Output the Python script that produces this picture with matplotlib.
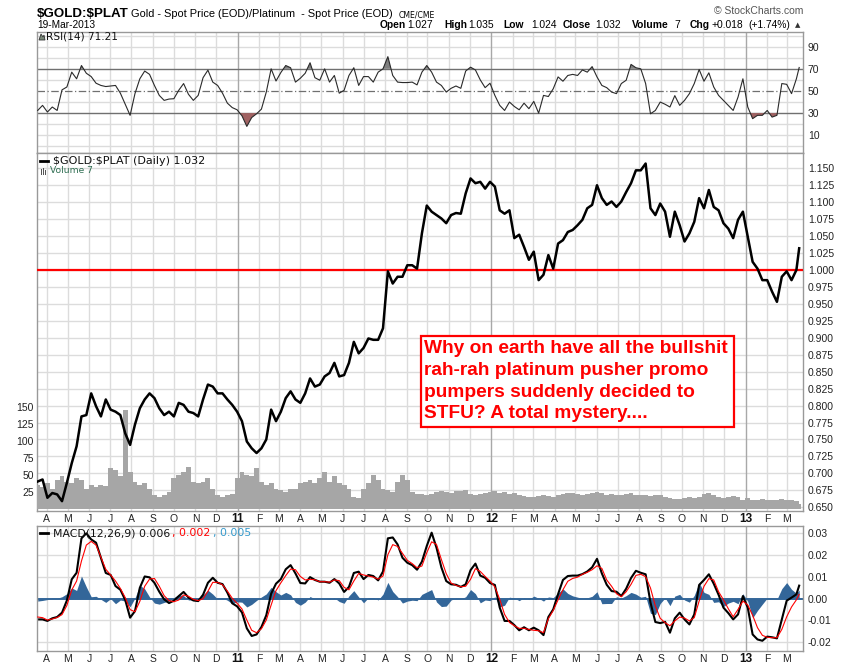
import numpy as np
import pandas as pd
import matplotlib
matplotlib.use('Agg')
import matplotlib.pyplot as plt
import matplotlib.dates as mdates
import matplotlib.transforms as mtransforms
from matplotlib.patches import Rectangle, Polygon
from matplotlib.lines import Line2D
from matplotlib import font_manager
from datetime import datetime

# ---------------- data ----------------
dates = list(pd.date_range('2010-03-19', '2013-03-15', freq='W-FRI')) + [pd.Timestamp('2013-03-19')]

price = [
    0.688, 0.691, 0.664, 0.671, 0.669, 0.659, 0.686, 0.715, 0.740, 0.784,
    0.786, 0.818, 0.799, 0.784, 0.809, 0.794, 0.791, 0.786, 0.759, 0.742,
    0.772, 0.796, 0.809, 0.818, 0.811, 0.796, 0.786, 0.791, 0.784, 0.804,
    0.801, 0.791, 0.789, 0.784, 0.809, 0.831, 0.828, 0.818, 0.818, 0.809,
    0.801, 0.791, 0.777, 0.747, 0.737, 0.730, 0.737, 0.750, 0.794, 0.777,
    0.791, 0.811, 0.821, 0.809, 0.804, 0.818, 0.840, 0.828, 0.831, 0.843,
    0.848, 0.863, 0.843, 0.845, 0.863, 0.894, 0.877, 0.885, 0.899, 0.897,
    0.897, 0.914, 0.998, 0.980, 0.990, 0.990, 1.007, 1.007, 1.002, 1.054,
    1.095, 1.086, 1.081, 1.076, 1.069, 1.081, 1.084, 1.083, 1.113, 1.135,
    1.128, 1.130, 1.120, 1.130, 1.123, 1.088, 1.083, 1.088, 1.047, 1.052,
    1.034, 1.015, 1.027, 0.985, 0.993, 1.022, 1.002, 1.039, 1.044, 1.056,
    1.059, 1.066, 1.074, 1.091, 1.096, 1.125, 1.106, 1.096, 1.101, 1.093,
    1.101, 1.115, 1.128, 1.147, 1.147, 1.157, 1.091, 1.081, 1.098, 1.086,
    1.049, 1.086, 1.066, 1.042, 1.054, 1.071, 1.106, 1.091, 1.118, 1.093,
    1.088, 1.069, 1.061, 1.047, 1.074, 1.086, 1.049, 1.012, 1.002, 0.985,
    0.985, 0.968, 0.953, 0.990, 0.998, 0.985, 1.000, 1.032]

rsi = [
    32.4, 37, 31, 35.5, 32.4, 51, 53.6, 67, 61, 73,
    66, 63, 57, 55, 54, 54.5, 55, 48, 38, 28,
    47.6, 61, 68, 65, 55, 46, 41.5, 42.7, 43, 50.6,
    56.7, 47, 41.5, 46, 62, 68.8, 58, 55, 48, 39,
    35, 33, 27.6, 18, 26, 29.4, 33.6, 49, 70, 59,
    66.7, 73, 71, 58, 61.5, 66, 75.5, 62, 59.7, 70,
    58, 64, 48, 50.6, 64, 71, 55, 63, 63, 58,
    67, 70, 81, 64, 58, 57.6, 57.6, 58, 55.5, 67,
    73, 67, 58, 55, 49, 52.4, 54.5, 52.4, 68, 71.5,
    69, 60, 53, 57, 46, 37, 32.4, 40, 36, 33,
    39, 34, 40.6, 30, 46, 45, 52, 62.7, 58.8, 64,
    65, 64, 69, 67, 72, 62.7, 55, 53, 49, 47.6,
    56.7, 59.7, 74, 71, 70, 56.7, 29.4, 32.4, 40, 38,
    35.5, 45.8, 37, 41.5, 47.6, 56.7, 69.4, 58.8, 66.4, 53.6,
    46, 41.5, 37, 32.4, 44.5, 61, 35.5, 25, 28, 28,
    32.4, 26.4, 28, 56.7, 56, 47.6, 61, 71.21]

macd = [
    -0.0095, -0.0095, -0.0102, -0.0090, -0.0084, -0.0064, -0.0008, 0.0089, 0.0119, 0.0277,
    0.0300, 0.0272, 0.0257, 0.0188, 0.0118, 0.0109, 0.0058, 0.0041, -0.0006, -0.0087,
    -0.0057, 0.0050, 0.0102, 0.0098, 0.0073, 0.0032, -0.0003, -0.0020, -0.0009, 0.0012,
    0.0031, 0.0005, -0.0008, -0.0011, 0.0018, 0.0073, 0.0096, 0.0073, 0.0067, 0.0028,
    -0.0021, -0.0035, -0.0063, -0.0136, -0.0171, -0.0164, -0.0130, -0.0076, 0.0023, 0.0069,
    0.0090, 0.0135, 0.0154, 0.0116, 0.0072, 0.0070, 0.0099, 0.0086, 0.0078, 0.0078,
    0.0073, 0.0090, 0.0070, 0.0031, 0.0054, 0.0118, 0.0124, 0.0090, 0.0109, 0.0104,
    0.0084, 0.0125, 0.0277, 0.0281, 0.0249, 0.0188, 0.0165, 0.0154, 0.0133, 0.0170,
    0.0242, 0.0303, 0.0234, 0.0144, 0.0081, 0.0066, 0.0064, 0.0054, 0.0066, 0.0131,
    0.0161, 0.0106, 0.0096, 0.0072, 0.0063, -0.0041, -0.0102, -0.0102, -0.0121, -0.0145,
    -0.0131, -0.0145, -0.0133, -0.0145, -0.0167, -0.0084, -0.0049, 0.0021, 0.0086, 0.0104,
    0.0106, 0.0106, 0.0113, 0.0125, 0.0144, 0.0183, 0.0116, 0.0064, 0.0035, 0.0032,
    0.0012, 0.0046, 0.0095, 0.0128, 0.0119, 0.0112, -0.0018, -0.0107, -0.0112, -0.0106,
    -0.0156, -0.0090, -0.0064, -0.0095, -0.0118, -0.0072, 0.0063, 0.0086, 0.0112, 0.0069,
    0.0018, -0.0041, -0.0066, -0.0095, -0.0072, 0.0012, -0.0041, -0.0164, -0.0187, -0.0193,
    -0.0174, -0.0177, -0.0182, -0.0095, -0.0009, 0.0005, 0.0020, 0.0060]

signal = [
    -0.0084, -0.0087, -0.0098, -0.0093, -0.0086, -0.0073, -0.0031, 0.0040, 0.0081, 0.0173,
    0.0246, 0.0263, 0.0246, 0.0191, 0.0135, 0.0109, 0.0081, 0.0047, 0.0005, -0.0050,
    -0.0060, -0.0012, 0.0057, 0.0090, 0.0093, 0.0057, 0.0014, -0.0009, -0.0014, -0.0006,
    0.0017, 0.0011, -0.0003, -0.0009, 0.0000, 0.0034, 0.0075, 0.0075, 0.0064, 0.0035,
    0.0002, -0.0021, -0.0047, -0.0098, -0.0145, -0.0156, -0.0138, -0.0098, -0.0029, 0.0037,
    0.0073, 0.0106, 0.0136, 0.0133, 0.0102, 0.0086, 0.0089, 0.0087, 0.0078, 0.0078,
    0.0076, 0.0086, 0.0083, 0.0052, 0.0041, 0.0081, 0.0116, 0.0109, 0.0104, 0.0099,
    0.0090, 0.0104, 0.0202, 0.0248, 0.0240, 0.0208, 0.0176, 0.0161, 0.0142, 0.0150,
    0.0211, 0.0261, 0.0249, 0.0180, 0.0115, 0.0072, 0.0061, 0.0055, 0.0057, 0.0089,
    0.0138, 0.0125, 0.0102, 0.0081, 0.0054, -0.0003, -0.0072, -0.0109, -0.0124, -0.0136,
    -0.0136, -0.0141, -0.0145, -0.0147, -0.0156, -0.0092, -0.0054, -0.0005, 0.0041, 0.0080,
    0.0093, 0.0099, 0.0112, 0.0121, 0.0133, 0.0151, 0.0139, 0.0086, 0.0057, 0.0023,
    0.0009, 0.0032, 0.0066, 0.0107, 0.0112, 0.0101, 0.0049, -0.0034, -0.0090, -0.0110,
    -0.0124, -0.0102, -0.0084, -0.0089, -0.0102, -0.0087, -0.0011, 0.0057, 0.0092, 0.0086,
    0.0032, -0.0005, -0.0046, -0.0083, -0.0049, -0.0011, -0.0029, -0.0076, -0.0133, -0.0168,
    -0.0177, -0.0179, -0.0179, -0.0141, -0.0083, -0.0038, -0.0005, 0.0020]

volume = [
    35, 32, 38, 30, 42, 48, 40, 38, 45, 42,
    30, 35, 32, 36, 34, 60, 58, 48, 146, 55,
    40, 35, 38, 30, 20, 18, 20, 25, 45, 50,
    55, 62, 40, 38, 40, 45, 30, 20, 18, 20,
    22, 45, 55, 50, 48, 60, 40, 35, 38, 30,
    28, 25, 30, 30, 38, 40, 42, 38, 45, 55,
    40, 48, 38, 35, 30, 18, 16, 30, 38, 50,
    42, 30, 28, 25, 40, 50, 42, 25, 22, 22,
    20, 22, 25, 26, 25, 24, 26, 27, 28, 22,
    21, 22, 23, 25, 26, 24, 25, 22, 23, 20,
    19, 18, 18, 19, 20, 19, 18, 20, 22, 23,
    24, 22, 21, 22, 24, 25, 23, 21, 22, 21,
    20, 22, 23, 21, 20, 21, 19, 20, 21, 18,
    16, 15, 15, 16, 17, 16, 18, 22, 24, 20,
    17, 16, 18, 19, 17, 14, 16, 14, 13, 15,
    14, 13, 14, 15, 13, 14, 12, 7]

month_starts = pd.date_range('2010-04-01', '2013-03-01', freq='MS')
month_labels = ['A', 'M', 'J', 'J', 'A', 'S', 'O', 'N', 'D',
                '11', 'F', 'M', 'A', 'M', 'J', 'J', 'A', 'S', 'O', 'N', 'D',
                '12', 'F', 'M', 'A', 'M', 'J', 'J', 'A', 'S', 'O', 'N', 'D',
                '13', 'F', 'M']

price_ticks = [0.650 + 0.025 * i for i in range(21)]
rsi_ticks = [10, 30, 50, 70, 90]
vol_ticks = [25, 50, 75, 100, 125, 150]
macd_ticks = [-0.02, -0.01, 0.0, 0.01, 0.02, 0.03]
macd_tick_labels = ['-0.02', '-0.01', '0.00', '0.01', '0.02', '0.03']

# ---------------- setup ----------------
names = {f.name for f in font_manager.fontManager.ttflist}
plt.rcParams['font.family'] = ['Liberation Sans', 'DejaVu Sans']
narrow = 'Liberation Sans Narrow' in names

W, H = 850, 668
fig = plt.figure(figsize=(W / 100, H / 100), dpi=100)
fig.patch.set_facecolor('white')


def rect(x0, y0, x1, y1):
    return [x0 / W, 1 - y1 / H, (x1 - x0) / W, (y1 - y0) / H]


def ftext(x, y, s, **kw):
    return fig.text(x / W, 1 - y / H, s, parse_math=False, **kw)


xd = mdates.date2num([d.to_pydatetime() for d in dates])
xm = mdates.date2num([d.to_pydatetime() for d in month_starts])
xlim = (mdates.date2num(datetime(2010, 3, 18)), mdates.date2num(datetime(2013, 3, 24, 12)))

GRID = '#dcdcdc'
YEARGRID = '#a8a8a8'
SPINE = '#999999'

ax_rsi = fig.add_axes(rect(37, 32.3, 803, 153.3))
ax_p = fig.add_axes(rect(37, 153.3, 803, 511))
ax_v = fig.add_axes(rect(37, 153.3, 803, 511))
ax_l = fig.add_axes(rect(37, 153.3, 803, 511))
ax_m = fig.add_axes(rect(37, 525.7, 803, 651))

for ax in (ax_rsi, ax_p, ax_v, ax_l, ax_m):
    ax.set_xlim(*xlim)
    ax.tick_params(axis='x', which='both', bottom=False, top=False, labelbottom=False)
    for s in ax.spines.values():
        s.set_color(SPINE)
        s.set_linewidth(1)

ax_p.set_zorder(1)
ax_v.set_zorder(2)
ax_l.set_zorder(3)
for ax in (ax_v, ax_l):
    ax.patch.set_visible(False)
    for s in ax.spines.values():
        s.set_visible(False)


def vgrid(ax):
    for x, lab in zip(xm, month_labels):
        ax.axvline(x, color=YEARGRID if lab.isdigit() else GRID, lw=1, zorder=0)


# ---------------- RSI panel ----------------
ax_rsi.set_ylim(-6.3, 103)
for v in range(0, 101, 10):
    if v not in (30, 50, 70):
        ax_rsi.axhline(v, color=GRID, lw=1, zorder=0)
vgrid(ax_rsi)
ax_rsi.axhline(70, color='#707070', lw=1, zorder=1)
ax_rsi.axhline(30, color='#707070', lw=1, zorder=1)
ax_rsi.axhline(50, color='#707070', lw=0.9, ls=(0, (6, 2, 1, 2)), zorder=1)
r = np.array(rsi)
ax_rsi.fill_between(xd, r, 70, where=r > 70, interpolate=True, color='#808080', lw=0, zorder=2)
ax_rsi.fill_between(xd, r, 30, where=r < 30, interpolate=True, color='#a06262', lw=0, zorder=2)
ax_rsi.plot(xd, r, color='#2a2a2a', lw=0.8, zorder=3)
ax_rsi.yaxis.tick_right()
ax_rsi.set_yticks(rsi_ticks)
ax_rsi.set_yticklabels([str(t) for t in rsi_ticks])
ax_rsi.tick_params(axis='y', length=0, pad=3.4, labelsize=7.5, labelcolor='#222222')

# ---------------- price / volume panel ----------------
ylo, yhi = 0.6445, 1.1721
ax_p.set_ylim(ylo, yhi)
ax_l.set_ylim(ylo, yhi)
for t in price_ticks:
    ax_p.axhline(t, color=GRID, lw=1, zorder=0)
vgrid(ax_p)
ax_p.yaxis.tick_right()
ax_p.set_yticks(price_ticks)
ax_p.set_yticklabels(['%.3f' % t for t in price_ticks])
ax_p.tick_params(axis='y', length=0, pad=3.4, labelsize=7.5, labelcolor='#222222')

ax_v.set_ylim(-2.9, 523)
widths = [7.0] * (len(xd) - 1) + [4.0]
ax_v.bar(xd, volume, width=widths, color='#a6a6a6', linewidth=0, align='center')
ax_v.yaxis.tick_left()
ax_v.set_yticks(vol_ticks)
ax_v.set_yticklabels([str(t) for t in vol_ticks])
ax_v.tick_params(axis='y', length=0, pad=2.2, labelsize=7.5, labelcolor='#222222')

ax_l.set_yticks([])
ax_l.axhline(1.0, color='#ff0000', lw=1.6, zorder=2)
ax_l.plot(xd, price, color='black', lw=1.8, zorder=3, solid_joinstyle='round')

# ---------------- MACD panel ----------------
ax_m.set_ylim(-0.024, 0.0335)
for t in macd_ticks:
    if t != 0:
        ax_m.axhline(t, color=GRID, lw=1, zorder=0)
vgrid(ax_m)
hist = np.array(macd) - np.array(signal)
ax_m.fill_between(xd, 0, hist, color='#336699', lw=0, zorder=1)
ax_m.axhline(0, color='#336699', lw=1.4, zorder=1)
ax_m.plot(xd, macd, color='black', lw=1.5, zorder=2)
ax_m.plot(xd, signal, color='#ff0000', lw=0.8, zorder=3)
ax_m.yaxis.tick_right()
ax_m.set_yticks(macd_ticks)
ax_m.set_yticklabels(macd_tick_labels)
ax_m.tick_params(axis='y', length=0, pad=3.4, labelsize=7.5, labelcolor='#222222')

# ---------------- month labels ----------------
for ax, ypix in ((ax_p, 519.5), (ax_m, 659.5)):
    trans = mtransforms.blended_transform_factory(ax.transData, fig.transFigure)
    for x, lab in zip(xm, month_labels):
        if lab.isdigit():
            fig.text(x, 1 - ypix / H, lab, transform=trans, ha='center', va='center',
                     fontsize=8.5, fontweight='bold', color='#111111')
        else:
            fig.text(x, 1 - ypix / H, lab, transform=trans, ha='center', va='center',
                     fontsize=7.5, color='#222222')

# ---------------- header ----------------
if narrow:
    ftext(37, 17.0, '$GOLD:$PLAT', family='Liberation Sans Narrow', fontweight='bold', fontsize=11,
          va='baseline', color='black')
else:
    ftext(37, 17.0, '$GOLD:$PLAT', fontweight='bold', fontsize=9.6, va='baseline', color='black')
ftext(131, 17.0, 'Gold - Spot Price (EOD)/Platinum  - Spot Price (EOD)', fontsize=7.9, va='baseline')
ftext(398.5, 17.0, 'CME/CME', family='DejaVu Sans', fontsize=5.6, va='baseline')
ftext(37, 28.0, '19-Mar-2013', fontsize=7.3, va='baseline')
ftext(803, 14, '\u00a9 StockCharts.com', fontsize=7.5, va='baseline', ha='right', color='#555555')

header_pieces = [('Open', True, 380), ('1.027', False, 407.5), ('High', True, 444), ('1.035', False, 468),
                 ('Low', True, 503), ('1.024', False, 531), ('Close', True, 563), ('1.032', False, 595),
                 ('Volume', True, 632), ('7', False, 674), ('Chg', True, 690), ('+0.018', False, 712),
                 ('(+1.74%)', False, 748)]
for s, b, x in header_pieces:
    ftext(x, 27.5, s, fontsize=7.4, fontweight='bold' if b else 'normal', va='baseline')
ftext(795, 25, '\u25b2', family='DejaVu Sans', fontsize=5, va='center', color='#333333')

# ---------------- panel legends ----------------
fig.add_artist(Polygon([[39 / W, 1 - 40 / H], [41 / W, 1 - 34 / H], [43 / W, 1 - 37 / H],
                        [44 / W, 1 - 35 / H], [45 / W, 1 - 40 / H]], closed=True,
                       transform=fig.transFigure, fc='#7a8a7a', ec='#333333', lw=0.6, zorder=5))
ftext(46, 36.7, 'RSI(14) 71.21', family='DejaVu Sans', fontsize=7.6, va='center', color='#111111', zorder=5)

fig.add_artist(Line2D([40 / W, 48 / W], [1 - 161 / H, 1 - 161 / H], transform=fig.transFigure,
                      color='black', lw=2, zorder=5))
ftext(52.7, 161, '$GOLD:$PLAT (Daily) 1.032', family='DejaVu Sans', fontsize=8, va='center',
      color='#111111', zorder=5)
for bx, bh in ((40.5, 5), (42.5, 7), (44.5, 4)):
    fig.add_artist(Rectangle((bx / W, 1 - 174.5 / H), 1.4 / W, bh / H, transform=fig.transFigure,
                             fc='#555555', ec='none', zorder=5))
ftext(50, 171, 'Volume 7', family='DejaVu Sans', fontsize=6.6, va='center', color='#2f6e52', zorder=5)

fig.add_artist(Line2D([40 / W, 48 / W], [1 - 533.3 / H, 1 - 533.3 / H], transform=fig.transFigure,
                      color='black', lw=2, zorder=5))
ftext(52.7, 533.3, 'MACD(12,26,9) 0.006', family='DejaVu Sans', fontsize=7.8, va='center', color='#111111', zorder=5)
ftext(171.7, 533.3, ', 0.002', family='DejaVu Sans', fontsize=7.8, va='center', color='#ff0000', zorder=5)
ftext(213, 533.3, ', 0.005', family='DejaVu Sans', fontsize=7.8, va='center', color='#3399cc', zorder=5)

# ---------------- annotation ----------------
fig.add_artist(Rectangle((421 / W, 1 - 426.7 / H), (734.3 - 421) / W, (426.7 - 336) / H,
                         transform=fig.transFigure, fc='white', ec='#ff0000', lw=1.6, zorder=10))
note_lines = ['Why on earth have all the bullshit', 'rah-rah platinum pusher promo',
              'pumpers suddenly decided to', 'STFU? A total mystery....']
for line, yb in zip(note_lines, (353.3, 375.0, 396.7, 418.3)):
    ftext(423.5, yb, line, fontsize=13.8, fontweight='bold', color='#ff0000', va='baseline', zorder=11)

fig.savefig('out.png', dpi=100, facecolor='white')
